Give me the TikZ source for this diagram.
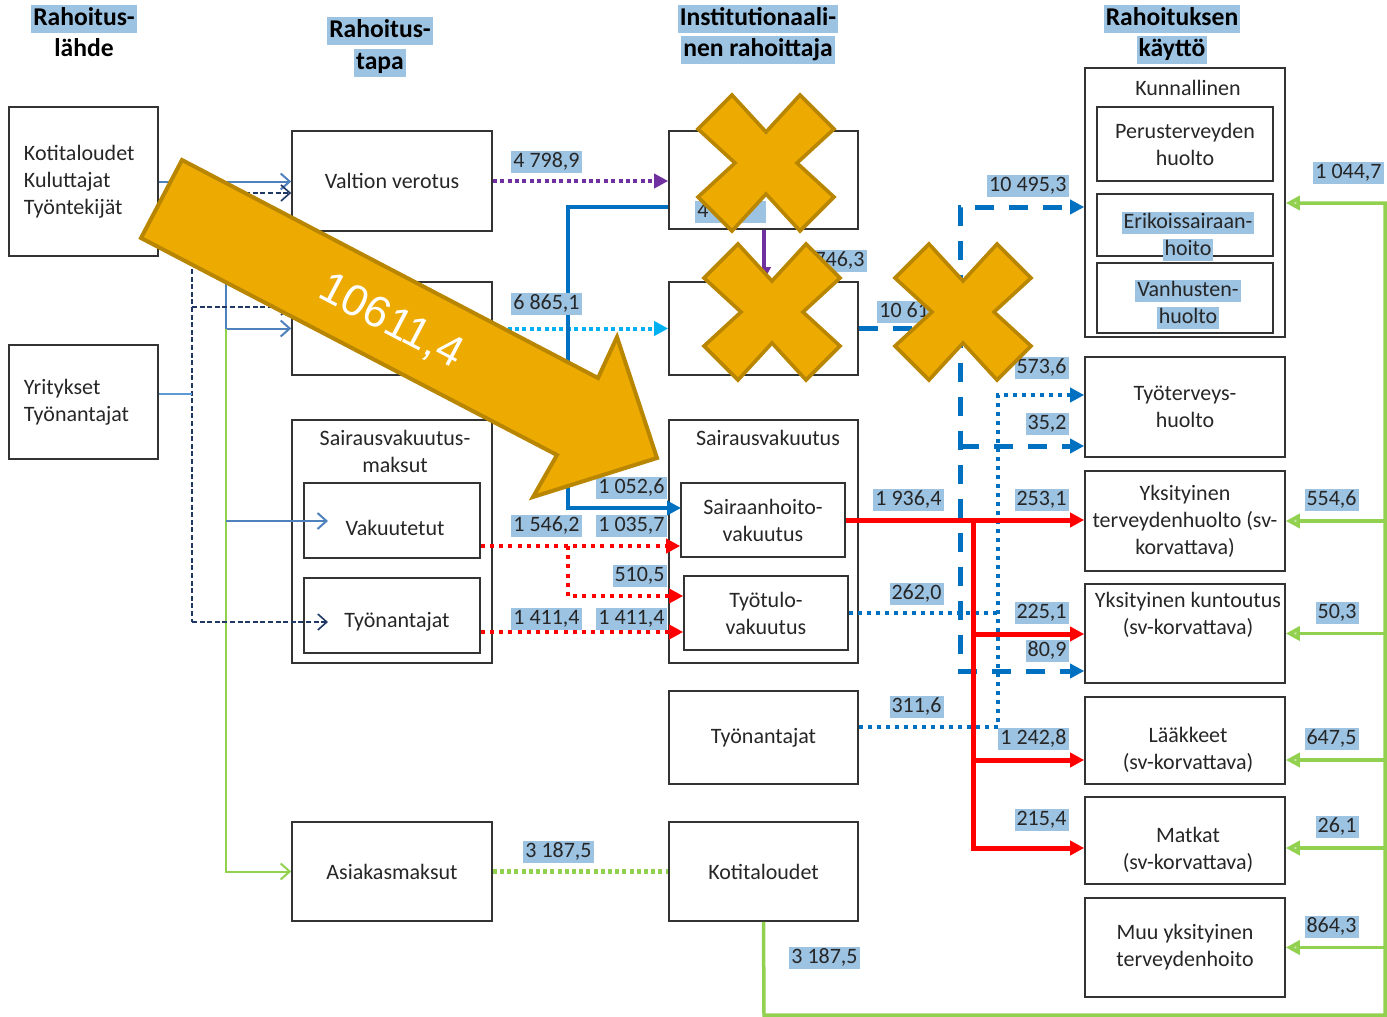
\documentclass[tikz,border=0pt]{standalone}
\usepackage{fontspec}
\setmainfont{Carlito}
\newfontfamily\arrowfont{Liberation Sans}
\usetikzlibrary{arrows.meta}

\definecolor{hlblue}{RGB}{157,195,226}
\definecolor{cSteel}{RGB}{79,129,189}
\definecolor{cNavy}{RGB}{31,56,100}
\definecolor{cLight}{RGB}{91,155,213}
\definecolor{cBlue}{RGB}{0,112,192}
\definecolor{cCyan}{RGB}{0,176,240}
\definecolor{cPurple}{RGB}{112,48,160}
\definecolor{cGreen}{RGB}{146,208,80}
\definecolor{cRed}{RGB}{255,0,0}
\definecolor{cGold}{RGB}{237,170,0}
\definecolor{cGoldEdge}{RGB}{184,134,0}

\begin{document}
\begin{tikzpicture}[x=0.5pt, y=-0.5pt, font=\fontsize{11}{13.5}\selectfont,
	box/.style={draw=black!80, line width=0.8pt, inner sep=0pt, align=center, text=black!85},
	txt/.style={align=center, inner sep=0pt, text=black!85},
	lbl/.style={fill=hlblue, inner xsep=1pt, inner ysep=0pt, text height=8.4pt,
				text depth=2.6pt, text=black!85},
	hdr/.style={fill=hlblue, inner xsep=1pt, inner ysep=0.5pt, text height=10pt,
				text depth=3.2pt, font=\fontsize{12.8}{15.5}\selectfont\bfseries},
	barb/.style={-{Straight Barb[length=4.5pt,width=8pt]}},
	tri/.style={-{Triangle[length=7pt,width=7pt]}},
	garrow/.style={-{Triangle[length=7pt,width=7pt,fill=cGreen!50]}},
	thinblue/.style={draw=cSteel, line width=1pt},
	navyline/.style={draw=cNavy, line width=0.8pt, dash pattern=on 2.5pt off 1.3pt},
	lightline/.style={draw=cLight, line width=0.8pt},
	greenthin/.style={draw=cGreen, line width=1pt},
	greenline/.style={draw=cGreen, line width=1.75pt},
	greendot/.style={draw=cGreen, line width=2.2pt, dash pattern=on 2pt off 1.6pt},
	purpledot/.style={draw=cPurple, line width=2pt, dash pattern=on 2pt off 1.7pt},
	cyandot/.style={draw=cCyan, line width=2pt, dash pattern=on 2pt off 1.7pt},
	purpleline/.style={draw=cPurple, line width=2pt},
	blueline/.style={draw=cBlue, line width=2.2pt},
	reddot/.style={draw=cRed, line width=2pt, dash pattern=on 2pt off 2.6pt},
	redline/.style={draw=cRed, line width=2.5pt},
	bluedash/.style={draw=cBlue, line width=2.5pt, dash pattern=on 9.5pt off 7.5pt},
	bluedot/.style={draw=cBlue, line width=1.8pt, dash pattern=on 2pt off 2.5pt},
	xmark/.style={fill=cGold, draw=cGoldEdge, line width=1.8pt, line join=miter},
	bigarrow/.style={fill=cGold, draw=cGoldEdge, line width=2pt, line join=miter}]

	\useasboundingbox (0,0) rectangle (1387,1017);

	\node[hdr] (h1a) at (84,19) {Rahoitus-};
	\node[hdr, fill=none] (h1b) at (84,50) {lähde};
	\node[hdr] (h2a) at (380,31) {Rahoitus-};
	\node[hdr] (h2b) at (380,63) {tapa};
	\node[hdr] (h3a) at (758,19) {Institutionaali-};
	\node[hdr] (h3b) at (758,50) {nen rahoittaja};
	\node[hdr] (h4a) at (1172,19) {Rahoituksen};
	\node[hdr] (h4b) at (1172,50) {käyttö};

	\node[box, minimum width=74.5pt, minimum height=74.5pt, text width=59.5pt, align=left] (kotit) at (83.5,181.5) {Kotitaloudet\\Kuluttajat\\Työntekijät};
	\node[box, minimum width=74.5pt, minimum height=57pt, text width=59.5pt, align=left] (yrit) at (83.5,402) {Yritykset\\Työnantajat};

	\node[box, minimum width=100pt, minimum height=50pt] (valtion) at (392,181) {Valtion verotus};
	\node[box, minimum width=100pt, minimum height=46.5pt] (kvero) at (392,328.5) {};
	\node[box, minimum width=100pt, minimum height=121.5pt] (svmaksut) at (392,541.5) {};
	\node[txt] (svmaksut-t) at (395,451.5) {Sairausvakuutus-\\maksut};
	\node[box, minimum width=88pt, minimum height=37.5pt] (vakuut) at (392,520.5) {};
	\node[txt] (vakuut-t) at (395,528) {Vakuutetut};
	\node[box, minimum width=88pt, minimum height=37.5pt] (tyonant) at (392,615.5) {};
	\node[txt] (tyonant-t) at (397,622) {Työnantajat};
	\node[box, minimum width=100pt, minimum height=49.5pt] (asiakas) at (392,871.5) {Asiakasmaksut};

	\node[box, minimum width=94.5pt, minimum height=49pt] (valtio) at (763.5,180) {};
	\node[box, minimum width=94.5pt, minimum height=46.5pt] (kunta) at (763.5,328.5) {};
	\node[box, minimum width=94.5pt, minimum height=121.5pt] (sv) at (763.5,541.5) {};
	\node[txt] (sv-t) at (768,438) {Sairausvakuutus};
	\node[box, minimum width=82pt, minimum height=37pt] (sairaanh) at (763,520) {Sairaanhoito-\\vakuutus};
	\node[box, minimum width=82pt, minimum height=37pt] (tyotulo) at (766,613) {Työtulo-\\vakuutus};
	\node[box, minimum width=94.5pt, minimum height=46.5pt] (tyonant2) at (763.5,737.5) {Työnantajat};
	\node[box, minimum width=94.5pt, minimum height=49.5pt] (kotit2) at (763.5,871.5) {Kotitaloudet};

	\node[box, minimum width=100pt, minimum height=134.5pt] (kunnal) at (1185,202.5) {};
	\node[txt] (kunnal-t) at (1188,88) {Kunnallinen};
	\node[box, minimum width=88pt, minimum height=37pt] (perus) at (1185,144) {Perusterveyden\\huolto};
	\node[box, minimum width=88pt, minimum height=31pt] (erik) at (1185,225) {};
	\node[lbl] (erik-a) at (1188,223) {Erikoissairaan-};
	\node[lbl] (erik-b) at (1188,250) {hoito};
	\node[box, minimum width=88pt, minimum height=35pt] (vanh) at (1185,298) {};
	\node[lbl] (vanh-a) at (1188,291) {Vanhusten-};
	\node[lbl] (vanh-b) at (1188,318) {huolto};
	\node[box, minimum width=100pt, minimum height=50pt] (tyoterv) at (1185,407) {Työterveys-\\huolto};
	\node[box, minimum width=100pt, minimum height=50pt] (ykster) at (1185,521) {Yksityinen\\terveydenhuolto (sv-\\korvattava)};
	\node[box, minimum width=100pt, minimum height=49.5pt] (ykskunt) at (1185,633.5) {};
	\node[txt] (ykskunt-t) at (1188,614.5) {Yksityinen kuntoutus\\(sv-korvattava)};
	\node[box, minimum width=100pt, minimum height=43.5pt] (laak) at (1185,740.5) {};
	\node[txt] (laak-t) at (1188,750) {Lääkkeet\\(sv-korvattava)};
	\node[box, minimum width=100pt, minimum height=43.5pt] (matkat) at (1185,840.5) {};
	\node[txt] (matkat-t) at (1188,850) {Matkat\\(sv-korvattava)};
	\node[box, minimum width=100pt, minimum height=49.5pt] (muu) at (1185,947.5) {Muu yksityinen\\terveydenhoito};

	\coordinate (nv-top) at (192,193);
	\coordinate (nv-mid) at (192,307);
	\coordinate (nv-yr) at (192,394);
	\coordinate (nv-bot) at (192,622);
	\coordinate (sb-top) at (226,181.5);
	\coordinate (sb-mid) at (226,328.5);
	\coordinate (sb-vak) at (226,521);
	\coordinate (vak-in) at (328,521);
	\coordinate (tyo-in) at (328,622);

	\draw[thinblue, barb] (kotit.east) -- (kotit.east -| valtion.west);
	\draw[thinblue, barb] (sb-top) -- (sb-mid) -- (kvero.west);
	\draw[greenthin, barb] (sb-mid) |- (asiakas.west);
	\draw[thinblue, barb] (sb-vak) -- (vak-in);
	\draw[navyline] (nv-top) -- (nv-bot);
	\draw[navyline, barb] (nv-top) -- (nv-top -| valtion.west);
	\draw[navyline, barb] (nv-mid) -- (nv-mid -| kvero.west);
	\draw[navyline, barb] (nv-bot) -- (tyo-in);
	\draw[lightline] ([yshift=4pt]yrit.east) -- (nv-yr);

	\coordinate (bl-c) at (568,508);
	\coordinate (sh-in) at (681,508);
	\coordinate (rd-br) at (568,546);

	\draw[purpledot, tri] (valtion.east) -- (valtion.east -| valtio.west);
	\draw[cyandot, tri] (kvero.east) -- (kunta.west);
	\draw[purpleline, tri] (valtio.south) -- (kunta.north);
	\draw[blueline, tri] ([yshift=-13.5pt]valtio.west) -| (bl-c) -- (sh-in);
	\draw[reddot, tri] ([yshift=-12.75pt]vakuut.east) -- ([yshift=-13pt]sairaanh.west);
	\draw[reddot, tri] (rd-br) |- ([yshift=8.5pt]tyotulo.west);
	\draw[reddot, tri] ([yshift=-8.25pt]tyonant.east) -- ([yshift=-9.5pt]tyotulo.west);
	\draw[greendot] (asiakas.east) -- (kotit2.west);

	\coordinate (g-bl) at (764,1015);
	\coordinate (g-br) at (1385,1015);
	\coordinate (g-tr) at (1385,203);
	\coordinate (g-laa) at (1385,760);
	\coordinate (g-mat) at (1385,848);

	\draw[greenline, garrow] (kotit2.south) -- (g-bl) -- (g-br) -- (g-tr) -- (g-tr -| kunnal.east);
	\draw[greenline, garrow] (g-br |- ykster.east) -- (ykster.east);
	\draw[greenline, garrow] (g-br |- ykskunt.east) -- (ykskunt.east);
	\draw[greenline, garrow] (g-laa) -- (g-laa -| laak.east);
	\draw[greenline, garrow] (g-mat) -- (g-mat -| matkat.east);
	\draw[greenline, garrow] (g-br |- muu.east) -- (muu.east);

	\coordinate (bd-top) at (960,207);
	\coordinate (bd-mid) at (960,446);
	\coordinate (bd-bot) at (960,671);
	\coordinate (bt-top) at (998,395);
	\coordinate (bt-bot) at (998,727);

	\draw[bluedash, tri] (kunta.east) -| (bd-top) -- (bd-top -| kunnal.west);
	\draw[bluedash, tri] (kunta.east -| bd-top) -- (bd-bot) -- (bd-bot -| ykskunt.west);
	\draw[bluedash, tri] (bd-mid) -- (bd-mid -| tyoterv.west);
	\draw[bluedot, tri] ([yshift=5.25pt]tyonant2.east) -- (bt-bot) -- (bt-top) -- (bt-top -| tyoterv.west);
	\draw[bluedot] (tyotulo.east) -- (tyotulo.east -| bt-top);

	\coordinate (rd-top) at (973,520);
	\coordinate (rd-kun) at (973,634);
	\coordinate (rd-laa) at (973,760);
	\coordinate (rd-bot) at (973,848);

	\draw[redline, tri] (sairaanh.east) -- (sairaanh.east -| ykster.west);
	\draw[redline, tri] (rd-top) -- (rd-bot) -- (rd-bot -| matkat.west);
	\draw[redline, tri] (rd-kun) -- (rd-kun -| ykskunt.west);
	\draw[redline, tri] (rd-laa) -- (rd-laa -| laak.west);

	\node[lbl, anchor=west] (l-4798) at (511,162) {4 798,9};
	\node[lbl, anchor=west] (l-6865) at (511,304) {6 865,1};
	\node[lbl, anchor=west] (l-47) at (695,212) {4 7\phantom{98,9}};
	\node[lbl, anchor=east] (l-746) at (867,261) {746,3};
	\node[lbl, anchor=east] (l-1052) at (667,488) {1 052,6};
	\node[lbl, anchor=west] (l-1546) at (511,526) {1 546,2};
	\node[lbl, anchor=east] (l-1035) at (667,526) {1 035,7};
	\node[lbl, anchor=east] (l-510) at (667,576) {510,5};
	\node[lbl, anchor=west] (l-1411a) at (511,619) {1 411,4};
	\node[lbl, anchor=east] (l-1411b) at (667,619) {1 411,4};
	\node[lbl, anchor=west] (l-3187a) at (523,852) {3 187,5};
	\node[lbl, anchor=west] (l-3187b) at (789,958) {3 187,5};
	\node[lbl, anchor=west] (l-1061) at (877,312) {10 61\phantom{1,4}};
	\node[lbl, anchor=east] (l-10495) at (1069,186) {10 495,3};
	\node[lbl, anchor=east] (l-5736) at (1069,368) {573,6};
	\node[lbl, anchor=east] (l-352) at (1069,424) {35,2};
	\node[lbl, anchor=east] (l-19364) at (944,500) {1 936,4};
	\node[lbl, anchor=east] (l-2531) at (1069,500) {253,1};
	\node[lbl, anchor=east] (l-2620) at (944,594) {262,0};
	\node[lbl, anchor=east] (l-2251) at (1069,613) {225,1};
	\node[lbl, anchor=east] (l-809) at (1069,651) {80,9};
	\node[lbl, anchor=east] (l-3116) at (944,707) {311,6};
	\node[lbl, anchor=east] (l-12428) at (1069,739) {1 242,8};
	\node[lbl, anchor=east] (l-2154) at (1069,820) {215,4};
	\node[lbl, anchor=east] (l-10447) at (1384,173) {1 044,7};
	\node[lbl, anchor=east] (l-5546) at (1359,500) {554,6};
	\node[lbl, anchor=east] (l-503) at (1359,613) {50,3};
	\node[lbl, anchor=east] (l-6475) at (1359,739) {647,5};
	\node[lbl, anchor=east] (l-261) at (1359,827) {26,1};
	\node[lbl, anchor=east] (l-8643) at (1359,927) {864,3};

	\draw[bigarrow] (182,160) -- (598,378) -- (617,337) -- (657,458) -- (533,497) -- (557,455) -- (141,238) -- cycle;
	\node[rotate=-27.7, text=white, inner sep=0pt, font=\arrowfont\fontsize{22}{22}\selectfont] (summa) at (391,322) {10611,4};

	\foreach \cx/\cy in {766/163, 772/312, 963/312}
		\draw[xmark, shift={(\cx,\cy)}] (-34,-68) -- (0,-31) -- (34,-68) -- (68,-34) -- (31,0) -- (68,34)
			-- (34,68) -- (0,31) -- (-34,68) -- (-68,34) -- (-31,0) -- (-68,-34) -- cycle;

\end{tikzpicture}
\end{document}
